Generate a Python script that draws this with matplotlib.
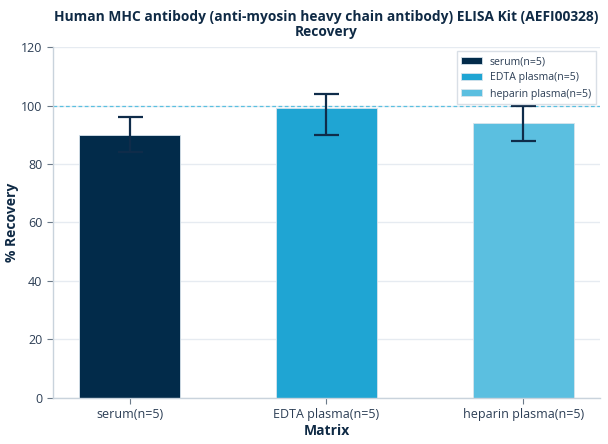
import matplotlib
matplotlib.use("Agg")
import matplotlib.pyplot as plt
import numpy as np

plt.rcParams['font.family'] = ['Open Sans', 'Noto Sans', 'DejaVu Sans']

categories = ["serum(n=5)", "EDTA plasma(n=5)", "heparin plasma(n=5)"]
values = [90, 99, 94]
err_low = [6, 9, 6]
err_high = [6, 5, 6]
colors = ["#022b4a", "#1fa5d3", "#5bbfe0"]
yticks = [0, 20, 40, 60, 80, 100, 120]

fig = plt.figure(figsize=(6.08, 4.44), dpi=100)
ax = fig.add_axes([0.087, 0.104, 0.900, 0.790])

x = np.arange(len(categories))
for i in range(len(categories)):
    ax.bar(x[i], values[i], width=0.51, color=colors[i], label=categories[i],
           edgecolor="#d8e4ec", linewidth=0.6, zorder=2)
    ax.errorbar(x[i], values[i], yerr=[[err_low[i]], [err_high[i]]], fmt='none',
                ecolor="#0f2c4a", elinewidth=1.6, capsize=9, capthick=1.6, zorder=3)

ax.axhline(100, color="#5bc0e0", linestyle=(0, (3, 2)), linewidth=0.9, zorder=1)

ax.set_xlim(-0.39, 2.39)
ax.set_ylim(0, 120)
ax.set_yticks(yticks)
ax.set_xticks(x)
ax.set_xticklabels(categories)
ax.yaxis.grid(True, color="#e6ebf1", linewidth=1.0, zorder=0)
ax.set_axisbelow(True)

for s in ["top", "right"]:
    ax.spines[s].set_visible(False)
for s in ["left", "bottom"]:
    ax.spines[s].set_color("#c9d3dc")
    ax.spines[s].set_linewidth(1.0)

ax.tick_params(axis='both', colors="#6b7a89", labelcolor="#2c3e55", labelsize=9, length=4)

ax.set_xlabel("Matrix", fontsize=10, fontweight='bold', color="#0f2a45", labelpad=2)
ax.set_ylabel("% Recovery", fontsize=10, fontweight='bold', color="#0f2a45")
ax.yaxis.set_label_coords(-0.062, 0.5)
ax.set_title("Human MHC antibody (anti-myosin heavy chain antibody) ELISA Kit (AEFI00328)\nRecovery",
             fontsize=9.9, fontweight='bold', color="#0f2a45", pad=8, linespacing=1.1)

leg = ax.legend(loc='upper right', fontsize=7.6, frameon=True, fancybox=False,
                edgecolor="#d0d8e0", handlelength=1.9, handleheight=0.65,
                handletextpad=0.8, borderpad=0.45, labelspacing=0.5, borderaxespad=0.4)
for t in leg.get_texts():
    t.set_color("#2c3e55")

fig.savefig("out.png", dpi=100)
